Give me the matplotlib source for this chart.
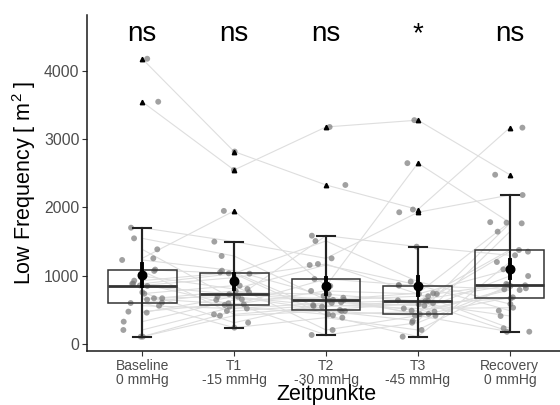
import numpy as np
import matplotlib
matplotlib.use('Agg')
import matplotlib.pyplot as plt

plt.rcParams['font.family'] = ['Liberation Sans', 'DejaVu Sans']
plt.rcParams['mathtext.fontset'] = 'custom'
plt.rcParams['mathtext.rm'] = 'Liberation Sans'

categories = ['Baseline\n0 mmHg', 'T1\n-15 mmHg', 'T2\n-30 mmHg', 'T3\n-45 mmHg', 'Recovery\n0 mmHg']
signif = ['ns', 'ns', 'ns', '*', 'ns']
yticks = [0, 1000, 2000, 3000, 4000]

# one value per subject (same subject order in every list)
baseline = [4180, 3550, 1255, 1704, 1548, 1387, 1231, 1090, 1070, 996, 928, 884, 883, 858,
            757, 737, 670, 669, 650, 605, 600, 474, 459, 327, 205, 107, 107, 560, 850]
t1 = [2820, 2550, 1950, 1499, 1289, 655, 1074, 1035, 434, 806, 1050, 571, 1030, 972,
      312, 855, 581, 693, 777, 239, 757, 596, 693, 645, 547, 484, 415, 520, 728]
t2 = [2330, 3180, 850, 1255, 645, 1587, 703, 1509, 547, 1157, 484, 952, 420, 1172,
      611, 205, 777, 498, 645, 386, 728, 132, 557, 678, 435, 571, 484, 600, 640]
t3 = [1970, 3280, 2650, 1930, 743, 1426, 435, 913, 630, 865, 337, 855, 107, 733,
      562, 415, 733, 600, 488, 205, 630, 312, 581, 440, 474, 520, 416, 640, 700]
recovery = [3170, 2480, 1778, 2183, 1785, 1300, 1768, 586, 1377, 488, 1646, 801, 1201, 230,
            1353, 684, 1094, 410, 996, 865, 180, 850, 669, 816, 791, 532, 178, 860, 880]

series = [baseline, t1, t2, t3, recovery]
data = np.array(series, dtype=float)
pos = np.arange(1, len(series) + 1)

fig = plt.figure(figsize=(5.6, 4.05), dpi=100)
ax = fig.add_axes([87 / 560, 54 / 405, 478 / 560, 336 / 405])

rng = np.random.default_rng(7)
jit = rng.uniform(-0.22, 0.22, size=data.shape)

for s in range(data.shape[1]):
    ax.plot(pos, data[:, s], color='#dedede', lw=0.8, zorder=1)

for i in range(len(pos)):
    ax.scatter(pos[i] + jit[i], data[i], s=18, color='#7a7a7a', alpha=0.7,
               edgecolors='none', zorder=2)

bp = ax.boxplot(series, positions=pos, widths=0.75, whis=1.5, patch_artist=True,
                showcaps=True, capwidths=0.2, manage_ticks=False,
                boxprops=dict(facecolor='none', edgecolor='#333333', lw=1.1),
                medianprops=dict(color='#333333', lw=2),
                whiskerprops=dict(color='#222222', lw=1.5),
                capprops=dict(color='#222222', lw=1.5),
                flierprops=dict(marker='^', markerfacecolor='black',
                                markeredgecolor='black', markersize=3.2))
for art in bp['boxes'] + bp['medians'] + bp['whiskers'] + bp['caps'] + bp['fliers']:
    art.set_zorder(3)

for i in range(len(pos)):
    lo = bp['whiskers'][2 * i].get_ydata()[1]
    hi = bp['whiskers'][2 * i + 1].get_ydata()[1]
    ax.vlines(pos[i], lo, hi, color='#222222', lw=1.5, zorder=3)
    m = data[i].mean()
    se = data[i].std(ddof=1) / np.sqrt(data.shape[1])
    ax.plot([pos[i], pos[i]], [m - se, m + se], color='black', lw=2.8, zorder=4)
    ax.scatter([pos[i]], [m], s=38, color='black', zorder=5)
    ax.text(pos[i], 4435, signif[i], ha='center', va='baseline', fontsize=20, color='black')

ax.set_xlim(0.4, 5.6)
ax.set_ylim(-103, 4821)
ax.set_xticks(pos)
ax.set_xticklabels(categories, fontsize=10, color='#4d4d4d', linespacing=1.0)
ax.set_yticks(yticks)
ax.set_yticklabels([str(v) for v in yticks], fontsize=11.3, color='#4d4d4d')
ax.tick_params(axis='both', length=3.5, width=0.8, color='#333333', pad=2)

for sp in ['top', 'right']:
    ax.spines[sp].set_visible(False)
for sp in ['left', 'bottom']:
    ax.spines[sp].set_color('#1a1a1a')
    ax.spines[sp].set_linewidth(1.1)

ax.set_ylabel('Low Frequency [ $\\mathregular{m^2}$ ]', fontsize=15.5, color='black', labelpad=4)
ax.set_xlabel('Zeitpunkte', fontsize=15.5, color='black', labelpad=-2)

fig.savefig('out.png', dpi=100)
